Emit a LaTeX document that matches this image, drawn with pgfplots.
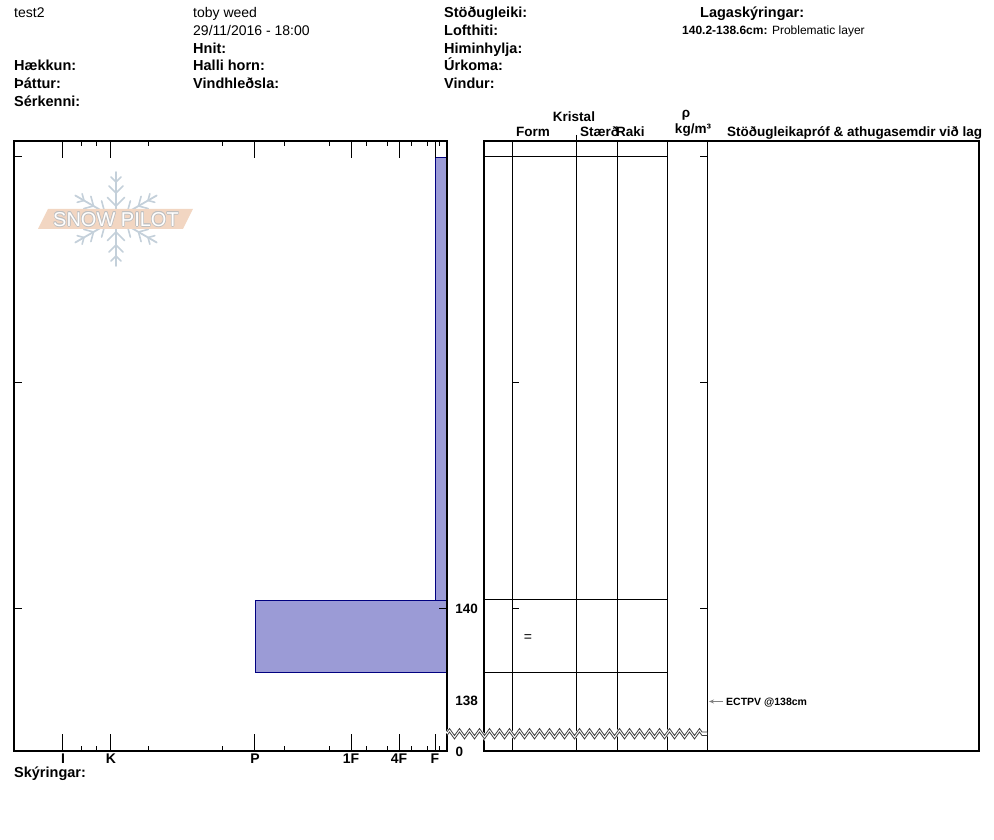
\documentclass[border=0pt]{standalone}
\usepackage{pgfplots}
\pgfplotsset{compat=1.18}
\usepackage{fontspec}
\setmainfont{Liberation Sans}
\usetikzlibrary{decorations.pathmorphing,arrows.meta}
\definecolor{barfill}{RGB}{155,155,214}
\definecolor{barline}{RGB}{0,0,128}
\definecolor{logopeach}{RGB}{242,214,194}
\definecolor{logoflake}{RGB}{196,208,218}
\newcommand\hr{\fontsize{14bp}{16bp}\selectfont}
\newcommand\hb{\fontsize{14.5bp}{17bp}\selectfont\bfseries}
\newcommand\cb{\fontsize{13.5bp}{16bp}\selectfont\bfseries}
\newcommand\sm{\fontsize{12bp}{14bp}\selectfont}
\begin{document}
\begin{tikzpicture}
\useasboundingbox (0,0) rectangle (994bp,840bp);
% ---------- logo (watermark, behind) ----------
\begin{scope}[x=1bp,y=-1bp,shift={(0,840bp)}]
  \foreach \a in {30,90,150,210,270,330}{
    \begin{scope}[shift={(116,219)},rotate=\a]
      \draw[logoflake,line width=1.8bp,line cap=round] (0,0) -- (47,0);
      \draw[logoflake,line width=1.6bp,line cap=round] (13,0) -- ++(45:12) (13,0) -- ++(-45:12);
      \draw[logoflake,line width=1.6bp,line cap=round] (26,0) -- ++(45:10) (26,0) -- ++(-45:10);
      \draw[logoflake,line width=1.6bp,line cap=round] (37,0) -- ++(45:7) (37,0) -- ++(-45:7);
    \end{scope}
  }
  \fill[logopeach] (48,209) -- (193,209) -- (183,229) -- (38,229) -- cycle;
  \foreach \dx/\dy in {0.7/0,-0.7/0,0/0.7,0/-0.7,0.5/0.5,-0.5/0.5,0.5/-0.5,-0.5/-0.5}{
    \node[inner sep=0pt,anchor=base,text=black!25,font=\fontsize{20bp}{22bp}\selectfont] at (116+\dx,226.5+\dy) {SNOW PILOT};
  }
  \node[inner sep=0pt,anchor=base,text=white,font=\fontsize{20bp}{22bp}\selectfont] at (116,226.5) {SNOW PILOT};
\end{scope}
% ---------- left hardness profile ----------
\begin{axis}[at={(14bp,89bp)},anchor=south west,scale only axis,
  width=433bp,height=610bp,
  xmin=0,xmax=433,x dir=reverse,
  ymin=136.858,ymax=150.354,
  axis on top,
  axis line style={line width=1.2bp},
  xtick={12,48,96,192,336,384},
  xticklabels={\textbf{F},\textbf{4F},\textbf{1F},\textbf{P},\textbf{K},\textbf{I}},
  minor xtick={8,20,36,60,81,118,162,224,298,350,365},
  xtick pos=both, xticklabel pos=lower,
  tick align=inside,
  major tick length=17bp, minor tick length=5bp,
  tick style={black,line width=1bp},
  xticklabel style={font=\fontsize{14bp}{16bp}\selectfont,inner sep=2.5bp},
  ytick=\empty,
  clip=false]
  \addplot[fill=barfill,draw=barline,line width=0.8bp] coordinates {(0,150) (12,150) (12,140.2) (0,140.2)} -- cycle;
  \addplot[fill=barfill,draw=barline,line width=0.8bp] coordinates {(0,140.2) (192,140.2) (192,138.6) (0,138.6)} -- cycle;
  \draw[line width=1bp] (axis cs:433,150) -- ++(8bp,0bp);
  \draw[line width=1bp] (axis cs:433,145) -- ++(8bp,0bp);
  \draw[line width=1bp] (axis cs:433,140) -- ++(8bp,0bp);
  \draw[line width=1bp] (axis cs:0,140) -- ++(-8bp,0bp);
\end{axis}
% ---------- right panel ----------
\begin{axis}[at={(484bp,89bp)},anchor=south west,scale only axis,
  width=495bp,height=610bp,
  xmin=0,xmax=495,
  ymin=136.858,ymax=150.354,
  axis line style={line width=1.2bp},
  xtick=\empty,ytick=\empty,clip=false]
  \draw[line width=1bp] (axis cs:28,136.858) -- (axis cs:28,150.354);
  \draw[line width=1bp] (axis cs:92,136.858) -- (axis cs:92,150.354);
  \draw[line width=1bp] (axis cs:133,136.858) -- (axis cs:133,150.354);
  \draw[line width=1bp] (axis cs:183,136.858) -- (axis cs:183,150.354);
  \draw[line width=1bp] (axis cs:223,136.858) -- (axis cs:223,150.354);
  \addplot[black,line width=1bp] coordinates {(0,150) (183,150)};
  \addplot[black,line width=1bp] coordinates {(0,140.2) (183,140.2)};
  \addplot[black,line width=1bp] coordinates {(0,138.6) (183,138.6)};
  \draw[line width=1bp] (axis cs:28,150) -- ++(7bp,0bp);
  \draw[line width=1bp] (axis cs:28,145) -- ++(7bp,0bp);
  \draw[line width=1bp] (axis cs:28,140) -- ++(7bp,0bp);
  \draw[line width=1bp] (axis cs:223,150) -- ++(-7bp,0bp);
  \draw[line width=1bp] (axis cs:223,145) -- ++(-7bp,0bp);
  \draw[line width=1bp] (axis cs:223,140) -- ++(-7bp,0bp);
\end{axis}
% ---------- texts, break symbol ----------
\begin{scope}[x=1bp,y=-1bp,shift={(0,840bp)},every node/.style={inner sep=0pt}]
  % header
  \node[anchor=base west,font=\hr] at (14,17.5) {test2};
  \node[anchor=base west,font=\hr] at (193,17.5) {toby weed};
  \node[anchor=base west,font=\hr] at (193,35.3) {29/11/2016 - 18:00};
  \node[anchor=base west,font=\hb] at (193,53.1) {Hnit:};
  \node[anchor=base west,font=\hb] at (14,70.9) {Hækkun:};
  \node[anchor=base west,font=\hb] at (193,70.9) {Halli horn:};
  \node[anchor=base west,font=\hb] at (14,88.7) {Þáttur:};
  \node[anchor=base west,font=\hb] at (193,88.7) {Vindhleðsla:};
  \node[anchor=base west,font=\hb] at (14,106.5) {Sérkenni:};
  \node[anchor=base west,font=\hb] at (444,17.5) {Stöðugleiki:};
  \node[anchor=base west,font=\hb] at (444,35.3) {Lofthiti:};
  \node[anchor=base west,font=\hb] at (444,53.1) {Himinhylja:};
  \node[anchor=base west,font=\hb] at (444,70.9) {Úrkoma:};
  \node[anchor=base west,font=\hb] at (444,88.7) {Vindur:};
  \node[anchor=base west,font=\hb] at (700,17.5) {Lagaskýringar:};
  \node[anchor=base west,font=\sm] at (682,34.5) {\textbf{140.2-138.6cm:} Problematic layer};
  % column headers
  \node[anchor=base,font=\cb] at (574,122) {Kristal};
  \node[anchor=base west,font=\cb] at (516,136.5) {Form};
  \node[anchor=base west,font=\cb] at (580,136.5) {Stærð};
  \node[anchor=base west,font=\cb] at (616,136.5) {Raki};
  \node[anchor=base,font=\cb] at (686,117.5) {ρ};
  \node[anchor=base,font=\cb] at (693,133.5) {kg/m³};
  \node[anchor=base west,font=\cb] at (727,136.5) {Stöðugleikapróf \& athugasemdir við lag};
  \draw[line width=1bp] (576,135) -- (576,141);
  % break symbol
  \draw[white,line width=4bp,decorate,decoration={zigzag,segment length=10bp,amplitude=3.5bp}] (447,733.75) -- (707,733.75);
  \draw[black!75,line width=0.8bp,decorate,decoration={zigzag,segment length=10bp,amplitude=3.5bp}] (447,732) -- (707,732);
  \draw[black!75,line width=0.8bp,decorate,decoration={zigzag,segment length=10bp,amplitude=3.5bp}] (447,735.5) -- (707,735.5);
  % depth labels
  \node[anchor=base east,font=\cb] at (478,614) {140};
  \node[anchor=base east,font=\cb] at (478,706) {138};
  \node[anchor=base,font=\cb] at (459.5,757) {0};
  % layer symbol
  \node[anchor=center,font=\hr] at (528,638) {=};
  % stability test
  \draw[-{Stealth[length=5bp,width=4bp]},black!50,line width=0.8bp] (723,701.5) -- (709,701.5);
  \node[anchor=base west,font=\fontsize{10.5bp}{12bp}\selectfont\bfseries] at (726,705.5) {ECTPV @138cm};
  % footer
  \node[anchor=base west,font=\hb] at (14,778) {Skýringar:};
\end{scope}
\end{tikzpicture}
\end{document}
